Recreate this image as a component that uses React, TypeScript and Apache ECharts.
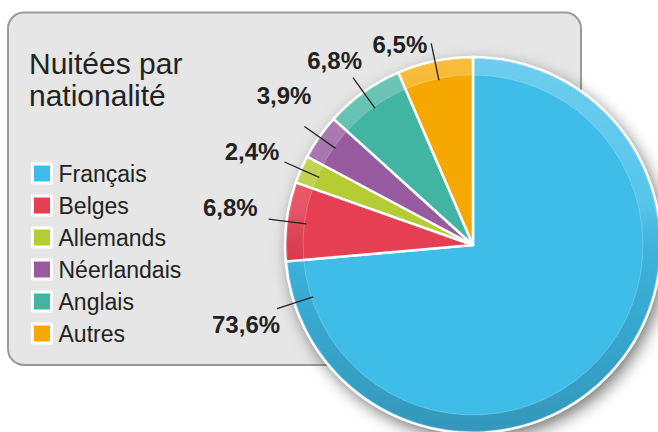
import React, { useEffect, useRef } from 'react';
import * as echarts from 'echarts';

// ---- data ----
const CATEGORIES = ['Français', 'Belges', 'Allemands', 'Néerlandais', 'Anglais', 'Autres'];
const VALUES = [73.6, 6.8, 2.4, 3.9, 6.8, 6.5];
const COLORS = ['#3fbde9', '#e63e53', '#b5cc35', '#985b9f', '#42b4a2', '#f6a800'];
const TITLE_LINES = ['Nuitées par', 'nationalité'];

// ---- layout ----
const CX = 473;
const CY = 245;
const R = 188;
const R_IN = 170;
const R_LABEL = 168;
const LINE_LEN = 38;
const FR_LABEL_ANGLE = 198; // degrees, anchor of the Français label line
// small per-label text nudges [dx, dy] (layout only)
const LABEL_NUDGE = [
  [0, 0],
  [-5, -12],
  [1, -11],
  [13, -31],
  [15, -17],
  [2, 1],
];

const FONT = '"Liberation Sans", Arial, Helvetica, sans-serif';

export default function App() {
  const ref = useRef<HTMLDivElement>(null);

  useEffect(() => {
    if (!ref.current) return;
    const chart = echarts.init(ref.current, null, { renderer: 'svg' });
    const data = CATEGORIES.map((name, i) => ({ name, value: VALUES[i] }));
    const fmt = (v: number) => v.toFixed(1).replace('.', ',') + '%';

    const common = {
      type: 'pie',
      center: [CX, CY],
      startAngle: 90,
      clockwise: true,
      silent: true,
      avoidLabelOverlap: false,
      emphasis: { disabled: true },
      label: { show: false },
      labelLine: { show: false },
    };

    const option: any = {
      animation: false,
      graphic: [
        {
          type: 'rect',
          z: 0,
          shape: { x: 8, y: 12.5, width: 573, height: 352.5, r: 16 },
          style: { fill: '#e6e6e6', stroke: '#9b9b9b', lineWidth: 2 },
        },
      ],
      title: {
        text: TITLE_LINES.join('\n'),
        left: 29,
        top: 47,
        padding: 0,
        textStyle: {
          fontSize: 30,
          fontWeight: 'normal',
          lineHeight: 32,
          color: '#222',
          fontFamily: FONT,
        },
      },
      legend: {
        orient: 'vertical',
        left: 31,
        top: 162,
        padding: 0,
        itemWidth: 19,
        itemHeight: 19,
        itemGap: 9,
        icon: 'rect',
        selectedMode: false,
        itemStyle: { borderColor: '#ffffff', borderWidth: 3 },
        textStyle: {
          fontSize: 23,
          lineHeight: 19,
          color: '#222',
          fontFamily: FONT,
          padding: [0, 0, 0, 2],
        },
        data: CATEGORIES.map((name, i) => ({ name, itemStyle: { color: COLORS[i] } })),
      },
      series: [
        {
          ...common,
          name: 'main',
          z: 2,
          radius: [0, R],
          data: data.map((d, i) => ({ ...d, itemStyle: { color: COLORS[i] } })),
          itemStyle: { borderColor: '#ffffff', borderWidth: 2.5 },
        },
        {
          ...common,
          name: 'shadow',
          z: 1,
          radius: [0, R],
          data,
          itemStyle: {
            color: '#ffffff',
            shadowBlur: 16,
            shadowColor: 'rgba(0,0,0,0.55)',
            shadowOffsetX: 4,
            shadowOffsetY: 6,
          },
        },
        {
          ...common,
          name: 'ring',
          z: 3,
          radius: [R_IN, R - 1.5],
          data,
          itemStyle: {
            color: {
              type: 'linear',
              x: 0,
              y: CY - R,
              x2: 0,
              y2: CY + R,
              global: true,
              colorStops: [
                { offset: 0, color: 'rgba(255,255,255,0.24)' },
                { offset: 0.4, color: 'rgba(255,255,255,0.12)' },
                { offset: 0.55, color: 'rgba(0,0,0,0.07)' },
                { offset: 1, color: 'rgba(0,0,0,0.2)' },
              ],
            },
            borderColor: 'rgba(255,255,255,0.22)',
            borderWidth: 1,
          },
        },
        {
          ...common,
          name: 'labels',
          z: 4,
          radius: [0, R_LABEL],
          data,
          itemStyle: { color: 'rgba(0,0,0,0)' },
          label: {
            show: true,
            position: 'outside',
            formatter: (p: any) => fmt(p.value),
            fontSize: 24,
            fontWeight: 'bold',
            color: '#222',
            fontFamily: FONT,
            distanceToLabelLine: 6,
          },
          labelLine: {
            show: true,
            length: LINE_LEN,
            length2: 0,
            smooth: false,
            lineStyle: { color: '#222', width: 1.3 },
          },
          labelLayout: (params: any) => {
            if (params.dataIndex === 0) {
              const a = (FR_LABEL_ANGLE * Math.PI) / 180;
              const ux = Math.cos(a);
              const uy = -Math.sin(a);
              const p0 = [CX + ux * R_LABEL, CY + uy * R_LABEL];
              const p1 = [CX + ux * (R_LABEL + LINE_LEN), CY + uy * (R_LABEL + LINE_LEN)];
              return {
                x: p1[0] + 3,
                y: p1[1] + 4,
                align: 'right',
                verticalAlign: 'top',
                labelLinePoints: [p0, p1, p1],
              };
            }
            const nudge = LABEL_NUDGE[params.dataIndex] || [0, 0];
            const r = params.labelRect;
            const out: any = {
              x: r.x + r.width + nudge[0],
              y: r.y + r.height / 2 + nudge[1],
              align: 'right',
              verticalAlign: 'middle',
            };
            if (params.labelLinePoints) out.labelLinePoints = params.labelLinePoints;
            return out;
          },
        },
      ],
    };

    chart.setOption(option);
    return () => chart.dispose();
  }, []);

  return (
    <div
      ref={ref}
      style={{ position: 'fixed', left: 0, top: 0, width: 658, height: 432, background: '#ffffff' }}
    />
  );
}
